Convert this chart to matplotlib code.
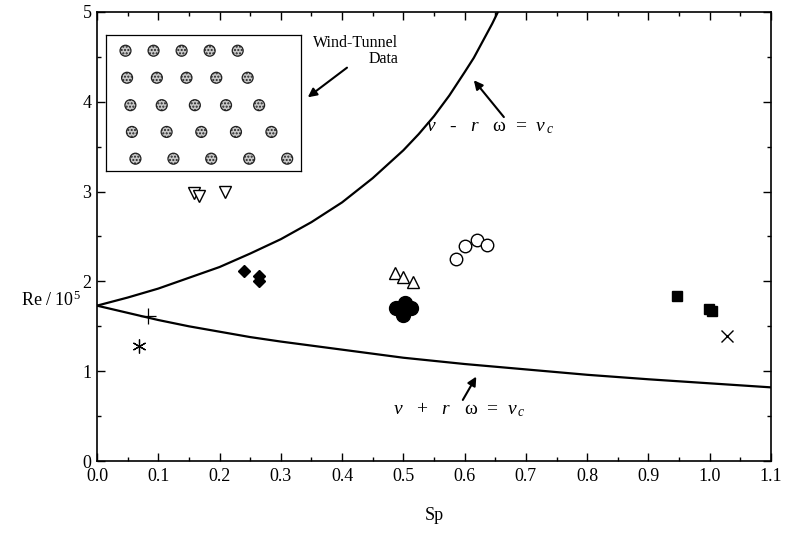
import matplotlib
matplotlib.use("Agg")
import matplotlib.pyplot as plt
from matplotlib.ticker import MultipleLocator

plt.rcParams['font.family'] = ['Liberation Serif', 'DejaVu Serif']
plt.rcParams['mathtext.fontset'] = 'custom'
plt.rcParams['mathtext.rm'] = 'Liberation Serif'
plt.rcParams['mathtext.it'] = 'Liberation Serif:italic'

# boundary curves
upper_sp = [0.0, 0.05, 0.1, 0.15, 0.2, 0.25, 0.3, 0.35, 0.4, 0.45, 0.5, 0.525, 0.55, 0.575,
            0.6, 0.615, 0.63, 0.645, 0.655, 0.665]
upper_re = [1.73, 1.82, 1.92, 2.04, 2.16, 2.31, 2.47, 2.66, 2.88, 3.15, 3.46, 3.64, 3.84, 4.07,
            4.33, 4.49, 4.68, 4.87, 5.01, 5.16]
lower_sp = [0.0, 0.05, 0.1, 0.15, 0.2, 0.25, 0.3, 0.4, 0.5, 0.6, 0.7, 0.8, 0.9, 1.0, 1.1]
lower_re = [1.73, 1.65, 1.57, 1.50, 1.44, 1.38, 1.33, 1.24, 1.15, 1.08, 1.02, 0.96, 0.91, 0.865, 0.82]

# measured points
star_sp, star_re = [0.069], [1.28]
plus_sp, plus_re = [0.084], [1.61]
tri_dn_sp, tri_dn_re = [0.159, 0.166, 0.209], [2.98, 2.95, 2.99]
diam_sp, diam_re = [0.240, 0.264, 0.264], [2.12, 2.06, 2.00]
tri_up_sp, tri_up_re = [0.487, 0.499, 0.515], [2.09, 2.05, 1.99]
circ_sp, circ_re = [0.586, 0.600, 0.620, 0.637], [2.25, 2.39, 2.46, 2.40]
dot_sp, dot_re = [0.488, 0.503, 0.512, 0.500], [1.70, 1.76, 1.70, 1.63]
sq_sp, sq_re = [0.947, 0.998, 1.004], [1.84, 1.69, 1.67]
x_sp, x_re = [1.028], [1.39]

# tube bank sketch in the inset (inset fractions)
rows_y = [0.884, 0.686, 0.485, 0.289, 0.093]
rows_x = [[0.099, 0.243, 0.387, 0.531, 0.675],
          [0.107, 0.260, 0.412, 0.565, 0.726],
          [0.124, 0.285, 0.455, 0.615, 0.785],
          [0.132, 0.310, 0.488, 0.666, 0.848],
          [0.150, 0.345, 0.539, 0.734, 0.929]]

fig = plt.figure(figsize=(7.93, 5.35), dpi=100)
ax = fig.add_axes([0.1223, 0.1383, 0.850, 0.8393])

ax.plot(upper_sp, upper_re, color='black', lw=1.6)
ax.plot(lower_sp, lower_re, color='black', lw=1.6)

ax.plot(star_sp, star_re, ls='none', marker=(6, 2, 0), ms=10, mec='black', mew=0.9)
ax.plot(plus_sp, plus_re, ls='none', marker='+', ms=12, mec='black', mew=0.9)
ax.plot(tri_dn_sp, tri_dn_re, ls='none', marker='v', ms=9, mfc='white', mec='black', mew=1.0)
ax.plot(diam_sp, diam_re, ls='none', marker='D', ms=6, color='black')
ax.plot(tri_up_sp, tri_up_re, ls='none', marker='^', ms=9, mfc='white', mec='black', mew=1.0)
ax.plot(circ_sp, circ_re, ls='none', marker='o', ms=9, mfc='white', mec='black', mew=1.0)
ax.plot(dot_sp, dot_re, ls='none', marker='o', ms=10, color='black')
ax.plot(sq_sp, sq_re, ls='none', marker='s', ms=7, color='black')
ax.plot(x_sp, x_re, ls='none', marker='x', ms=8, mec='black', mew=1.0)

ax.set_xlim(0, 1.1)
ax.set_ylim(0, 5)
ax.xaxis.set_major_locator(MultipleLocator(0.1))
ax.xaxis.set_minor_locator(MultipleLocator(0.05))
ax.yaxis.set_major_locator(MultipleLocator(1))
ax.yaxis.set_minor_locator(MultipleLocator(0.5))
ax.xaxis.set_major_formatter(plt.FuncFormatter(lambda v, p: '%.1f' % v))
ax.tick_params(which='both', direction='in', top=True, right=True, labelsize=13, width=1.0)
ax.tick_params(axis='x', pad=5)
ax.tick_params(axis='y', pad=4)
ax.tick_params(which='major', length=6)
ax.tick_params(which='minor', length=3)
for s in ax.spines.values():
    s.set_linewidth(1.2)

ax.set_xlabel('Sp', fontsize=13, labelpad=16)
ax.set_ylabel(r'Re / 10$^{\mathrm{5}}$', fontsize=13, rotation=0, ha='right', va='center')
ax.yaxis.set_label_coords(-0.024, 0.358)

arrow = dict(arrowstyle='-|>', color='black', lw=1.5, shrinkA=0, shrinkB=0, mutation_scale=13)

ax.annotate('', xy=(0.615, 4.24), xytext=(0.664, 3.83), arrowprops=arrow)
ax.text(0.641, 3.71, r'$v$   -   $r$   ω  =  $v_{\,c}$', fontsize=14, ha='center', va='center')

ax.annotate('', xy=(0.619, 0.94), xytext=(0.597, 0.68), arrowprops=arrow)
ax.text(0.592, 0.57, r'$v$   +   $r$   ω  =  $v_{\,c}$', fontsize=14, ha='center', va='center')

ax.annotate('', xy=(0.344, 4.05), xytext=(0.408, 4.38), arrowprops=arrow)
ax.text(0.492, 4.57, 'Wind-Tunnel\nData', fontsize=11.5, ha='right', va='center',
        multialignment='right', linespacing=1.0)

ins = ax.inset_axes([0.0137, 0.645, 0.289, 0.304])
ins.set_xlim(0, 1)
ins.set_ylim(0, 1)
ins.set_xticks([])
ins.set_yticks([])
for s in ins.spines.values():
    s.set_linewidth(0.9)
for ry, rx in zip(rows_y, rows_x):
    ins.scatter(rx, [ry] * len(rx), s=62, facecolor='#c8c8c8', edgecolor='#222222',
                hatch='.....', linewidths=0.9)

fig.savefig('out.png', dpi=100)
